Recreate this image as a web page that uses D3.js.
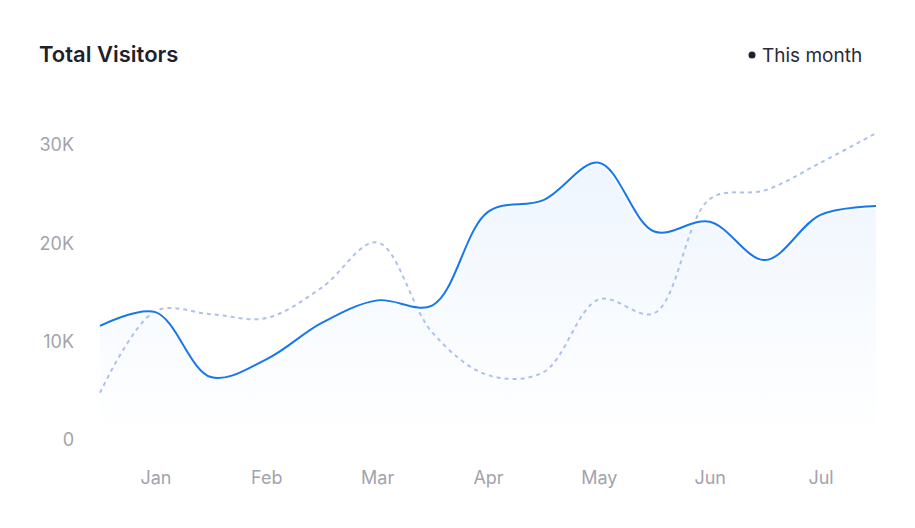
<!DOCTYPE html>
<html>
<head>
<meta charset="utf-8">
<script src="https://cdn.jsdelivr.net/npm/d3@7"></script>
<style>
  body { margin: 0; background: #fff; font-family: Inter, "Noto Sans", sans-serif; }
  svg { display: block; }
</style>
</head>
<body>
<svg id="chart" width="915" height="528"></svg>
<script>
// half-month points, labels shown only on the first half of each month
const categories = ['Dec b', 'Jan a', 'Jan b', 'Feb a', 'Feb b', 'Mar a', 'Mar b', 'Apr a',
  'Apr b', 'May a', 'May b', 'Jun a', 'Jun b', 'Jul a', 'Jul b'];
const tickLabels = ['Jan', 'Feb', 'Mar', 'Apr', 'May', 'Jun', 'Jul'];
const yTicks = [0, 10000, 20000, 30000];

const thisMonth = [11600, 13000, 6400, 8200, 11900, 14200, 13700, 23200,
  24400, 28200, 21200, 22200, 18300, 22900, 23800];
const lastMonth = [4800, 13100, 12800, 12400, 15500, 20100, 10900, 6600,
  6900, 14300, 12900, 24500, 25400, 28200, 31200];

const svg = d3.select('#chart');

const x = d3.scalePoint()
  .domain(categories)
  .range([100, 876]);

const y = d3.scaleLinear()
  .domain([0, 30000])
  .range([440, 145]);

// title + legend
svg.append('text')
  .attr('x', 39)
  .attr('y', 62)
  .text('Total Visitors')
  .style('font-size', '22px')
  .style('font-weight', 600)
  .style('fill', '#1f1f2e');

svg.append('circle')
  .attr('cx', 752)
  .attr('cy', 55)
  .attr('r', 3.5)
  .style('fill', '#1f1f2e');
svg.append('text')
  .attr('x', 762)
  .attr('y', 61.5)
  .text('This month')
  .style('font-size', '19px')
  .style('fill', '#2a2a38');

// y axis
const yAxisG = svg.append('g')
  .attr('transform', 'translate(80,0)')
  .call(d3.axisLeft(y)
    .tickValues(yTicks)
    .tickSize(0)
    .tickPadding(6)
    .tickFormat(d => d === 0 ? '0' : (d / 1000) + 'K'));
yAxisG.select('.domain').remove();
yAxisG.selectAll('text')
  .style('font-family', 'Inter, sans-serif')
  .style('font-size', '18px')
  .style('fill', '#a3a3ab');

// x axis
const xAxisG = svg.append('g')
  .attr('transform', 'translate(0,440)')
  .call(d3.axisBottom(x)
    .tickValues(categories.filter((c, i) => i % 2 === 1))
    .tickSize(0)
    .tickPadding(31)
    .tickFormat((d, i) => tickLabels[i]));
xAxisG.select('.domain').remove();
xAxisG.selectAll('text')
  .style('font-family', 'Inter, sans-serif')
  .style('font-size', '18px')
  .style('fill', '#a3a3ab');

// gradient for the area
const defs = svg.append('defs');
const grad = defs.append('linearGradient')
  .attr('id', 'areaFill')
  .attr('gradientUnits', 'userSpaceOnUse')
  .attr('x1', 0).attr('y1', y(28000))
  .attr('x2', 0).attr('y2', y(0));
grad.append('stop').attr('offset', '0%').attr('stop-color', '#1877f2').attr('stop-opacity', 0.07);
grad.append('stop').attr('offset', '100%').attr('stop-color', '#1877f2').attr('stop-opacity', 0);

const curve = d3.curveCatmullRom.alpha(0.5);

const area = d3.area()
  .x((d, i) => x(categories[i]))
  .y0(y(0))
  .y1(d => y(d))
  .curve(curve);

const line = d3.line()
  .x((d, i) => x(categories[i]))
  .y(d => y(d))
  .curve(curve);

svg.append('path')
  .datum(thisMonth)
  .attr('d', area)
  .style('fill', 'url(#areaFill)');

// previous period, dashed
svg.append('path')
  .datum(lastMonth)
  .attr('d', line)
  .style('fill', 'none')
  .style('stroke', '#adc2ea')
  .style('stroke-width', 2)
  .style('stroke-dasharray', '4 4');

// soft halo under the main line
svg.append('path')
  .datum(thisMonth)
  .attr('d', line)
  .style('fill', 'none')
  .style('stroke', '#ffffff')
  .style('stroke-opacity', 0.8)
  .style('stroke-width', 6);

svg.append('path')
  .datum(thisMonth)
  .attr('d', line)
  .style('fill', 'none')
  .style('stroke', '#1677ee')
  .style('stroke-width', 2);
</script>
</body>
</html>
